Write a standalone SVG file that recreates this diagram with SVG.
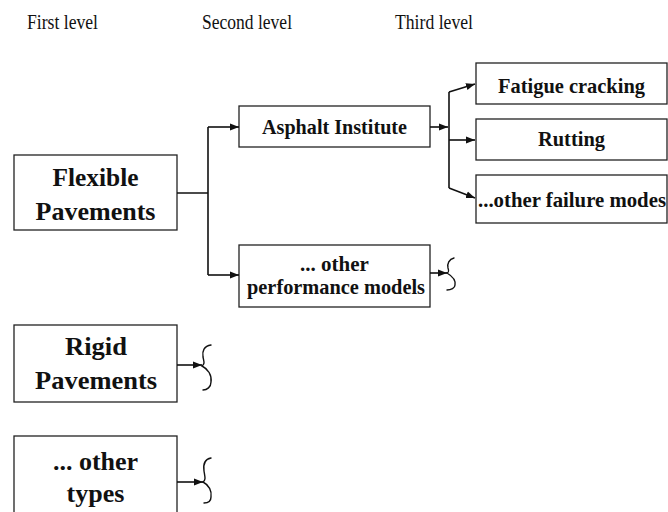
<svg xmlns="http://www.w3.org/2000/svg" width="668" height="512" viewBox="0 0 668 512">
<defs>
<marker id="ah" markerWidth="10" markerHeight="8" refX="9" refY="4" orient="auto" markerUnits="userSpaceOnUse">
<path d="M0,0.5 L9,4 L0,7.5 Z" fill="#111"/>
</marker>
<style>
.hdr{font-family:"Liberation Serif","Times New Roman",serif;font-size:21px;fill:#111}
.box{fill:#fff;stroke:#222;stroke-width:1.3}
.lb{font-family:"Liberation Serif","Times New Roman",serif;font-weight:bold;fill:#111;text-anchor:middle}
.big{font-size:26px}
.mid{font-size:21px}
.ln{fill:none;stroke:#111;stroke-width:1.6}
.arr{fill:none;stroke:#111;stroke-width:1.6;marker-end:url(#ah)}
.br{fill:none;stroke:#111;stroke-width:1.4;stroke-linecap:round}
</style>
</defs>
<rect width="668" height="512" fill="#fff"/>
<g id="headers">
<text class="hdr" x="27" y="29" textLength="71" lengthAdjust="spacingAndGlyphs">First level</text>
<text class="hdr" x="202" y="29" textLength="90" lengthAdjust="spacingAndGlyphs">Second level</text>
<text class="hdr" x="395" y="29" textLength="78" lengthAdjust="spacingAndGlyphs">Third level</text>
</g>
<g id="flexible">
<rect class="box" x="14" y="155" width="163" height="75"/>
<text class="lb big" x="95.5" y="186" textLength="86" lengthAdjust="spacingAndGlyphs">Flexible</text>
<text class="lb big" x="95.5" y="220" textLength="120" lengthAdjust="spacingAndGlyphs">Pavements</text>
</g>
<g id="asphalt">
<rect class="box" x="239" y="106" width="191" height="41"/>
<text class="lb mid" x="334.5" y="134" textLength="145" lengthAdjust="spacingAndGlyphs">Asphalt Institute</text>
</g>
<g id="perf">
<rect class="box" x="239" y="245" width="191" height="62"/>
<text class="lb mid" x="334.5" y="271">... other</text>
<text class="lb mid" x="336" y="294" textLength="178" lengthAdjust="spacingAndGlyphs">performance models</text>
</g>
<g id="fatigue">
<rect class="box" x="476" y="63" width="191" height="41"/>
<text class="lb mid" x="571.5" y="93" textLength="147" lengthAdjust="spacingAndGlyphs">Fatigue cracking</text>
</g>
<g id="rutting">
<rect class="box" x="476" y="119" width="191" height="41"/>
<text class="lb mid" x="571.5" y="146" textLength="67" lengthAdjust="spacingAndGlyphs">Rutting</text>
</g>
<g id="failure">
<rect class="box" x="476" y="175" width="191" height="48"/>
<text class="lb mid" x="572" y="207" textLength="188" lengthAdjust="spacingAndGlyphs">...other failure modes</text>
</g>
<g id="rigid">
<rect class="box" x="14" y="325" width="163" height="77"/>
<text class="lb big" x="96" y="355" textLength="62" lengthAdjust="spacingAndGlyphs">Rigid</text>
<text class="lb big" x="96" y="389" textLength="122" lengthAdjust="spacingAndGlyphs">Pavements</text>
</g>
<g id="othertypes">
<rect class="box" x="14" y="436" width="163" height="82"/>
<text class="lb big" x="95.5" y="470">... other</text>
<text class="lb big" x="95.5" y="502">types</text>
</g>
<g id="connectors">
<path class="ln" d="M177,193 H208 M208,127 V275"/>
<path class="arr" d="M208,127 H239"/>
<path class="arr" d="M208,275 H239"/>
<path class="arr" d="M430,127 H448"/>
<path class="ln" d="M449,92 V188"/>
<path class="arr" d="M449,92 L475,84"/>
<path class="arr" d="M449,140 H475"/>
<path class="arr" d="M449,188 L475,198"/>
<path class="arr" d="M430,273 H447"/>
<path class="br" d="M454,258 C449,259 447,264 448,268 C449,271 449,272 447,273 C452,276 456,280 455,285 C455,288 451,290 447,290"/>
<path class="arr" d="M177,365 H202"/>
<path class="br" d="M211,345 C204,346 202,351 203,357 C204,362 205,364 202,366 C208,369 212,375 211,382 C211,387 207,390 203,390"/>
<path class="arr" d="M177,482 H203"/>
<path class="br" d="M211,458 C205,459 203,464 204,471 C205,477 206,480 203,482 C209,485 212,491 211,497 C211,501 208,503 204,503"/>
</g>
</svg>
